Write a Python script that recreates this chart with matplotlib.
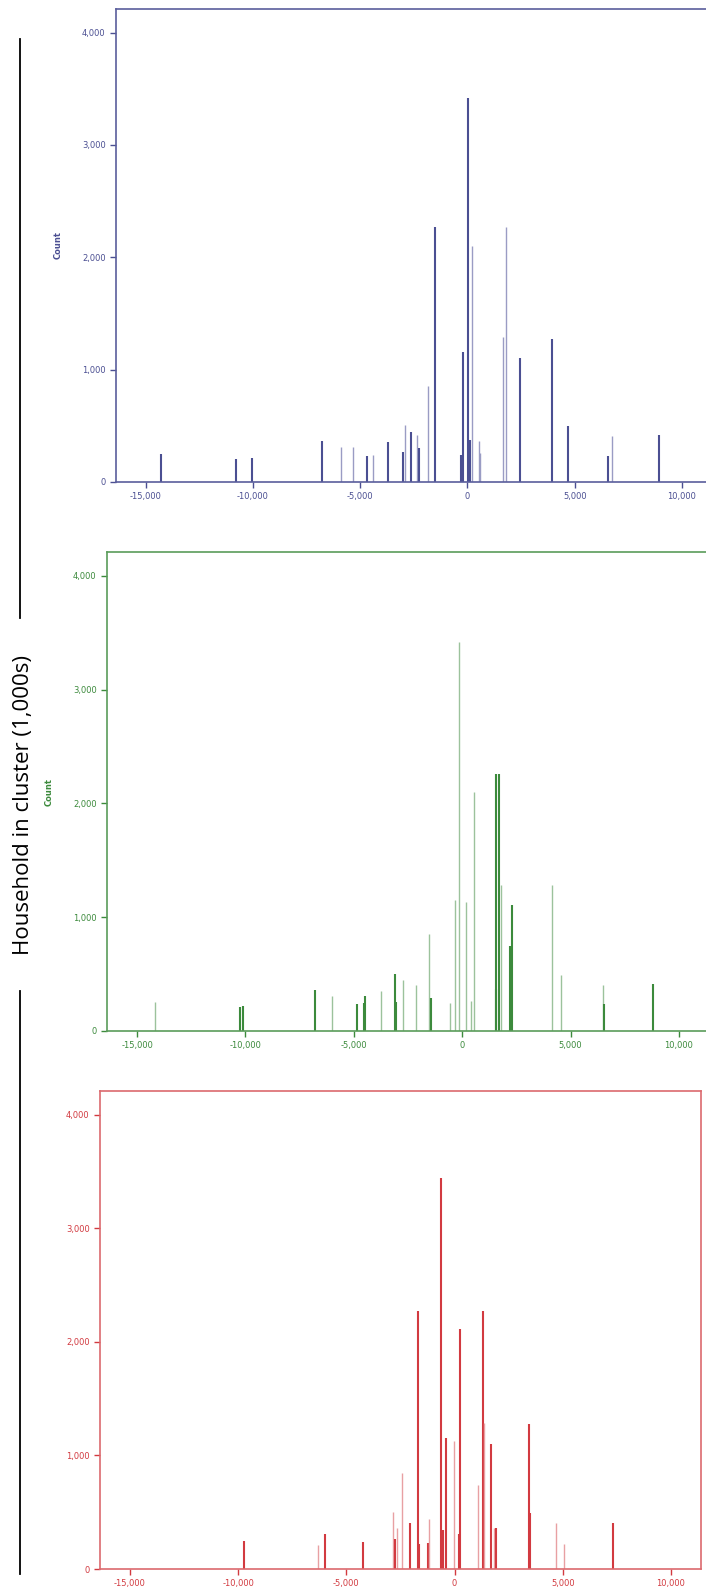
import matplotlib
matplotlib.use("Agg")
import matplotlib.pyplot as plt
from matplotlib.ticker import FuncFormatter

# Panel 1 (blue): bar position, count, dark (1) or light (0)
x_blue = [-14280, -10780, -10025, -6795, -5870, -5350, -4680, -4400, -3710, -2980, -2915,
          -2620, -2330, -2265, -1825, -1490, -295, -210, 40, 125, 230, 525, 610, 1680,
          1780, 2430, 3960, 4700, 6545, 6750, 8915]
y_blue = [252, 205, 214, 368, 312, 312, 228, 237, 353, 264, 507,
          442, 418, 303, 852, 2267, 240, 1157, 3418, 377, 2104, 368, 258, 1288,
          2267, 1104, 1276, 496, 228, 412, 421]
d_blue = [1, 1, 1, 1, 0, 0, 1, 0, 1, 1, 0,
          1, 0, 1, 0, 1, 1, 1, 1, 1, 0, 0, 0, 0,
          0, 1, 1, 1, 1, 0, 1]

# Panel 2 (green)
x_green = [-14190, -10260, -10110, -6790, -6020, -4840, -4530, -4470, -3760, -3080, -3040,
           -2730, -2150, -1550, -1420, -570, -340, -130, 180, 390, 560, 1540, 1580, 1680,
           1790, 2200, 2290, 4160, 4550, 6480, 6550, 8800]
y_green = [253, 209, 215, 364, 310, 236, 242, 310, 354, 505, 253,
           444, 404, 848, 290, 246, 1155, 3418, 1135, 263, 2104, 2263, 370, 2263,
           1286, 747, 1104, 1286, 488, 404, 236, 411]
d_green = [0, 1, 1, 1, 0, 1, 1, 1, 0, 1, 1,
           0, 0, 0, 1, 0, 0, 0, 0, 0, 0, 1, 1, 1,
           0, 1, 1, 0, 0, 0, 1, 1]

# Panel 3 (red)
x_red = [-9730, -6320, -5970, -4240, -2830, -2745, -2640, -2410, -2060, -1705, -1645,
         -1230, -1165, -625, -540, -415, -40, 190, 250, 1100, 1310, 1370, 1685, 1810,
         1915, 3430, 3495, 4700, 5055, 7300]
y_red = [245, 214, 306, 235, 498, 260, 361, 847, 407, 2272, 223,
         229, 437, 3440, 346, 1153, 1131, 306, 2110, 743, 2272, 1284, 1101, 358,
         358, 1278, 489, 407, 223, 407]
d_red = [1, 0, 1, 1, 0, 1, 0, 0, 1, 1, 1,
         1, 0, 1, 1, 1, 0, 1, 1, 0, 1, 0, 1, 0,
         1, 1, 1, 0, 0, 1]

panels = [
    (x_blue, y_blue, d_blue, "#4b4f92", "#9a9cc4", "#5a5e9c", [0.1643, 0.6969, 0.8412, 0.2974], (-16375, 11300), "Count"),
    (x_green, y_green, d_green, "#3c8a3c", "#9cc29c", "#5a9c5a", [0.1516, 0.3516, 0.8501, 0.3012], (-16384, 11300), "Count"),
    (x_red, y_red, d_red, "#d23a40", "#e8a0a3", "#dc6a6e", [0.1416, 0.0132, 0.8513, 0.3006], (-16386, 11386), ""),
]

fig = plt.figure(figsize=(7.06, 15.9), dpi=100)
fmt = FuncFormatter(lambda v, p: f"{int(v):,}")

for xs, ys, ds, dark, light, frame, rect, xlim, ylab in panels:
    ax = fig.add_axes(rect)
    for x, y, d in zip(xs, ys, ds):
        if d:
            ax.vlines(x, 0, y, color=dark, lw=1.5)
        else:
            ax.vlines(x, 0, y, color=light, lw=1.0)
    ax.set_xlim(*xlim)
    ax.set_ylim(0, 4210)
    ax.set_xticks([-15000, -10000, -5000, 0, 5000, 10000])
    ax.set_yticks([0, 1000, 2000, 3000, 4000])
    ax.xaxis.set_major_formatter(fmt)
    ax.yaxis.set_major_formatter(fmt)
    ax.tick_params(colors=dark, labelcolor=dark, labelsize=6, length=4, width=1)
    for s in ax.spines.values():
        s.set_color(frame)
        s.set_linewidth(1.2)
    if ylab:
        ax.set_ylabel(ylab, fontsize=6, fontweight="bold", color=dark, labelpad=14)

# left bracket line with rotated label
fig.add_artist(plt.Line2D([0.028, 0.028], [1 - 39 / 1590, 1 - 618 / 1590], color="black", lw=1.3))
fig.add_artist(plt.Line2D([0.028, 0.028], [1 - 991 / 1590, 1 - 1574 / 1590], color="black", lw=1.3))
fig.text(0.033, 1 - 805 / 1590, "Household in cluster (1,000s)", rotation=90,
         ha="center", va="center", fontsize=16, family="Open Sans")

fig.savefig("out.png", dpi=100)
